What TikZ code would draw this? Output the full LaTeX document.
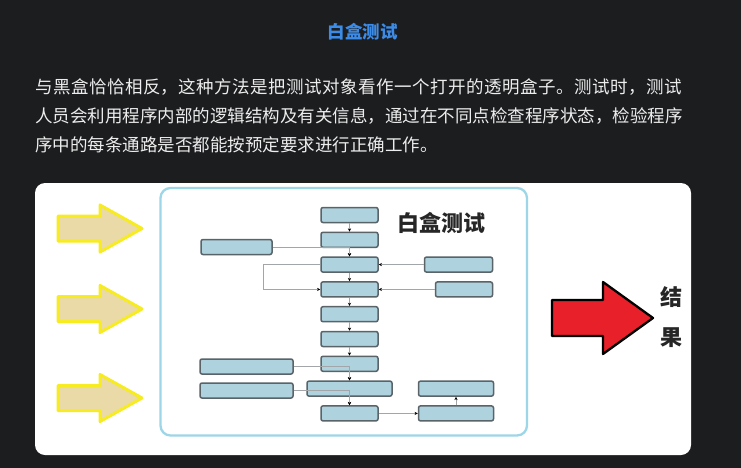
\documentclass[tikz,border=0pt]{standalone}
\usepackage{fontspec}
\setmainfont{Noto Sans CJK SC}
\usepackage{xcolor}
\usepackage{tikz}
\usetikzlibrary{arrows.meta, positioning, calc}
\definecolor{pagebg}{HTML}{1C1D1F}
\definecolor{titleblue}{HTML}{3C8CE7}
\definecolor{bodytext}{HTML}{EDEDED}
\definecolor{framecyan}{HTML}{9DD7E7}
\definecolor{boxfill}{HTML}{AED2DE}
\definecolor{boxline}{HTML}{596368}
\definecolor{wirecol}{HTML}{A2A6A8}
\definecolor{inyellow}{HTML}{F7EB22}
\definecolor{inwheat}{HTML}{E9DAA7}
\definecolor{outred}{HTML}{E8202A}
\newcommand*\inarrow[1]{%
    \draw [inshape] (58,#1-12.5) -- (100,#1-12.5) -- (100,#1-23.5) -- (142,#1) -- (100,#1+23.5) -- (100,#1+12.5) -- (58,#1+12.5) -- cycle;}
\tikzstyle{para} = [inner sep=0pt, anchor=west, text=bodytext, font=\fontsize{17.5}{21}\selectfont]
\tikzstyle{block} = [rectangle, rounded corners=2pt, minimum width=57pt, minimum height=15pt, inner sep=0pt, draw=boxline, line width=1.5pt, fill=boxfill]
\tikzstyle{flow} = [-{Stealth[length=3.2pt, width=3.2pt, black]}, wirecol, line width=1pt]
\tikzstyle{inshape} = [fill=inwheat, draw=inyellow, line width=3pt, line join=round]
\tikzstyle{outshape} = [fill=outred, draw=black, line width=2.3pt, line join=round]
\tikzstyle{result} = [inner sep=0pt, text=black!85, font=\fontsize{22}{26}\selectfont\bfseries]
\begin{document}
\begin{tikzpicture}[x=1pt, y=-1pt, node distance=8.3pt]
    % === PAGE: dark background, heading and text ===
    \fill [pagebg] (0,0) rectangle (741,468);
    \node (title) [inner sep=0pt, text=titleblue, font=\fontsize{17.5}{21}\selectfont\bfseries] at (362.5,32) {白盒测试};
    \node (line1) [para] at (35,87.5) {\addfontfeatures{LetterSpace=2.7}与黑盒恰恰相反，这种方法是把测试对象看作一个打开的透明盒子。测试时，测试};
    \node (line2) [para] at (35,116) {人员会利用程序内部的逻辑结构及有关信息，通过在不同点检查程序状态，检验程序};
    \node (line3) [para] at (35,145) {序中的每条通路是否都能按预定要求进行正确工作。};

    % === PICTURE CARD ===
    \node (card) [fill=white, rounded corners=10pt, minimum width=656pt, minimum height=272pt, inner sep=0pt] at (363,319) {};
    \node (frame) [draw=framecyan, line width=2.3pt, rounded corners=10pt, minimum width=366.5pt, minimum height=247.5pt, inner sep=0pt] at (343.75,311.75) {};

    % inputs
    \inarrow{228.5}
    \inarrow{309}
    \inarrow{398}

    % main column
    \node (b1) [block] at (349.5,215) {};
    \node (b2) [block, below=of b1] {};
    \node (b3) [block, below=of b2] {};
    \node (b4) [block, below=of b3] {};
    \node (b5) [block, below=of b4] {};
    \node (b6) [block, below=of b5] {};
    \node (b7) [block, below=of b6] {};
    \node (b8) [block, minimum width=85pt, below=of b7] {};
    \node (b9) [block, below=of b8] {};

    % side boxes
    \node (l1) [block, minimum width=71pt] at (236.5,247) {};
    \node (l2) [block, minimum width=93pt] at (246.5,366.5) {};
    \node (l3) [block, minimum width=93pt] at (246.5,390.5) {};
    \node (r1) [block, minimum width=68pt, right=45pt of b3] {};
    \node (r2) [block, minimum width=57pt, right=56pt of b4] {};
    \node (r3) [block, minimum width=75pt, right=25pt of b8] {};
    \node (r4) [block, minimum width=75pt, right=39pt of b9] {};

    \node (boxtitle) [result] at (441,223) {白盒测试};

    % column flows
    \draw [flow] (b1) -- (b2);
    \draw [flow] (b2) -- (b3);
    \draw [flow] (b3) -- (b4);
    \draw [flow] (b4) -- (b5);
    \draw [flow] (b5) -- (b6);
    \draw [flow] (b6) -- (b7);
    \draw [flow] (b7) -- (b8);
    \draw [flow] (b8) -- (b9);

    % branches into the column
    \draw [flow] (l1.east) -| (b3.north);
    \draw [flow] (b3.west) -- ++(-57,0) |- (b4.west);
    \draw [flow] (r1.west) -- (b3.east);
    \draw [flow] (r2.west) -- (b4.east);
    \draw [flow] (l2.east) -| (b8.north);
    \draw [flow] (l3.east) -| (b9.north);
    \draw [flow] (b9.east) -- (r4.west);
    \draw [flow] (r4.north) -- (r3.south);

    % output
    \draw [outshape] (552,300) -- (603,300) -- (603,282) -- (653,318) -- (603,354) -- (603,336) -- (552,336) -- cycle;
    \node (res1) [result] at (671,297) {结};
    \node (res2) [result] at (671,338) {果};

\end{tikzpicture}
\end{document}
